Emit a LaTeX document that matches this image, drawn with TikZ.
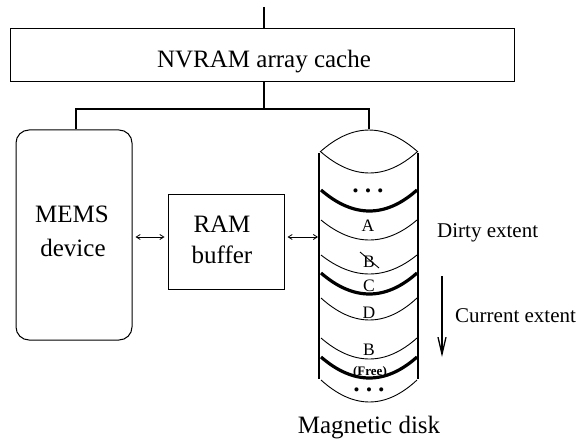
\documentclass[tikz,border=0pt]{standalone}
\usepackage{fontspec}
\setmainfont{Liberation Serif}
\usetikzlibrary{arrows.meta,calc}
\begin{document}
\begin{tikzpicture}[x=1pt,y=-1pt,
  box/.style={draw,line width=1pt,inner sep=0pt},
  conn/.style={line width=1.6pt},
  bigtext/.style={font=\fontsize{25}{30}\selectfont,inner sep=0pt},
  sidetext/.style={font=\fontsize{21}{26}\selectfont,inner sep=0pt,anchor=base west},
  lettertext/.style={font=\fontsize{17.5}{18}\selectfont,inner sep=0pt,anchor=base},
  dotstext/.style={font=\fontsize{17}{17}\selectfont,inner sep=0pt},
  biarrow/.style={line width=0.8pt,{Straight Barb[length=4pt,width=5pt]}-{Straight Barb[length=4pt,width=5pt]}},
  thinarc/.style={line width=0.9pt},
  thickarc/.style={line width=3.2pt},
  diskside/.style={line width=1.2pt}
]
\path[use as bounding box] (0,0) rectangle (579,441);

% boxes
\node[box,minimum width=504pt,minimum height=53pt] (nvram) at (262,55.5) {};
\node[bigtext,anchor=base] (nvramtxt) at (264,68) {NVRAM array cache};
\node[box,rounded corners=13pt,minimum width=116pt,minimum height=210pt] (mems) at (74,235) {};
\node[bigtext,anchor=base] (memsa) at (72,223) {MEMS};
\node[bigtext,anchor=base] (memsb) at (73,257) {device};
\node[box,minimum width=116pt,minimum height=94pt] (ram) at (226,242) {};
\node[bigtext,anchor=base] (rama) at (222,233) {RAM};
\node[bigtext,anchor=base] (ramb) at (222,264) {buffer};

% disk geometry
\coordinate (disktop) at (369,129);
\coordinate (dl) at (319,153);
\coordinate (dr) at (418,153);
\draw[diskside] (dl) -- (319,379);
\draw[diskside] (dr) -- (418,379);
% top lens
\draw[thinarc] (320,152) .. controls (352.7,122.7) and (385.3,122.7) .. (418,152);
\foreach \ye/\sg/\st in {152/21/thinarc,190/21/thickarc,220/20/thinarc,255/19/thinarc,273/21/thickarc,298/22/thinarc,338/21/thinarc,357/21/thickarc,380/22/thinarc}{
  \draw[\st] (321,\ye) .. controls (353.3,{\ye+1.333*\sg}) and (385.7,{\ye+1.333*\sg}) .. (417,\ye);
}

% disk labels
\node[dotstext] (dotsa) at (368,193) {\textbullet\hspace{6.5pt}\textbullet\hspace{6.5pt}\textbullet};
\node[lettertext] (la) at (368,232) {A};
\node[lettertext] (lb1) at (369,267) {B};
\draw[line width=0.9pt] ($(lb1.base)+(-9,-15)$) -- ($(lb1.base)+(10,1)$);
\node[lettertext] (lc) at (369,291) {C};
\node[lettertext] (ld) at (369,318) {D};
\node[lettertext] (lb2) at (369,355) {B};
\node[font=\fontsize{13}{14}\selectfont\bfseries,inner sep=0pt,anchor=base] (free) at (370,375) {(Free)};
\node[dotstext] (dotsb) at (369,392) {\textbullet\hspace{6.5pt}\textbullet\hspace{6.5pt}\textbullet};

% connectors
\coordinate (top) at (264,7);
\coordinate (jn) at (264,109);
\coordinate (jl) at (76,109);
\coordinate (jr) at (369,109);
\draw[conn] (top) -- (top |- nvram.north);
\draw[conn] (top |- nvram.south) -- (jn);
\draw[conn] (jl |- mems.north) -- (jl) -- (jr) -- (disktop);

\draw[biarrow] ($(mems.east)+(3,2)$) -- ($(ram.west)+(-3,-5)$);
\draw[biarrow] ($(ram.east)+(3,-5)$) -- ($(dl)+(-1,84)$);

% side texts
\node[sidetext] (dirty) at (437,237) {Dirty extent};
\node[sidetext] (current) at (455,323) {Current extent};
\coordinate (ca) at (442,276);
\coordinate (cb) at (442,357);
\draw[line width=1.3pt,-{Straight Barb[length=17pt,width=8pt]}] (ca) -- (cb);

\node[bigtext,anchor=base] (magdisk) at (369,433) {Magnetic disk};
\end{tikzpicture}
\end{document}
